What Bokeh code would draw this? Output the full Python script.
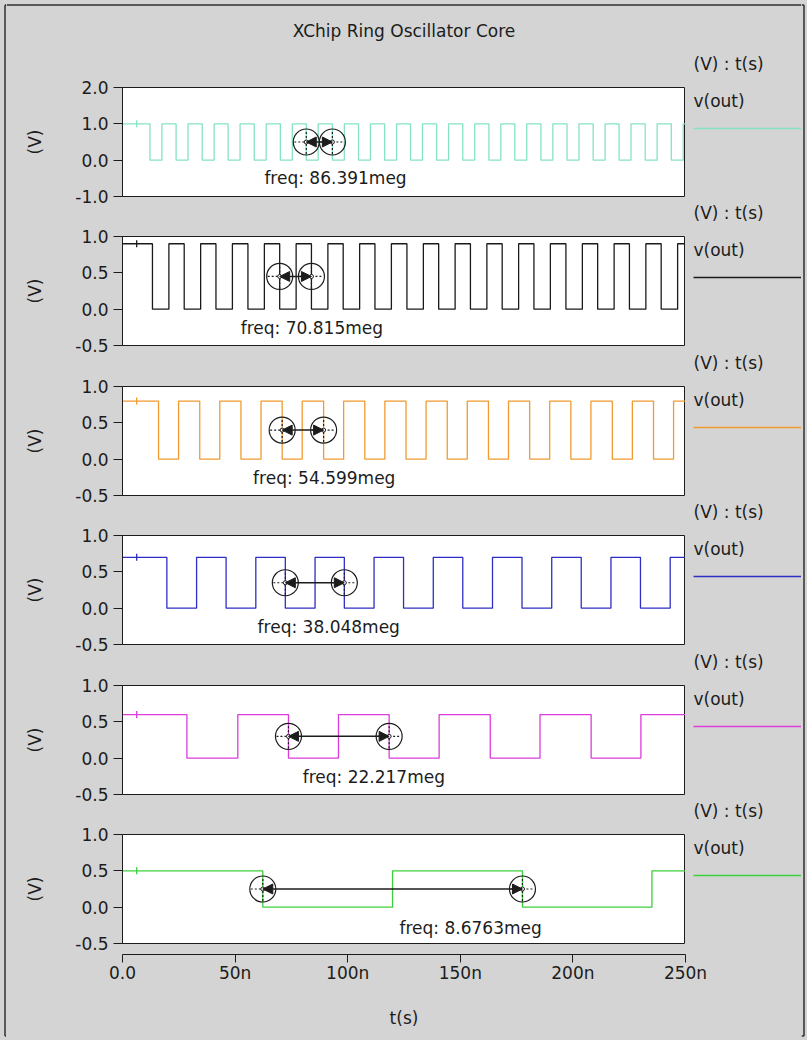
import math
from bokeh.plotting import figure
from bokeh.layouts import column, row
from bokeh.models import Range1d, FixedTicker, PrintfTickFormatter, Arrow, NormalHead
from bokeh.core.properties import value
from bokeh.embed import file_html
from bokeh.resources import INLINE

# ---------------- data ----------------
chart_title = "XChip Ring Oscillator Core"
x_tick_values = [0, 50, 100, 150, 200, 250]          # time in ns
x_tick_labels = ["0.0", "50n", "100n", "150n", "200n", "250n"]
x_axis_title = "t(s)"
y_axis_title = "(V)"
legend_header = "(V) : t(s)"
signal_name = "v(out)"

y_limits = [(-1.0, 2.0), (-0.5, 1.0), (-0.5, 1.0), (-0.5, 1.0), (-0.5, 1.0), (-0.5, 1.0)]
y_ticks_first = [-1.0, 0.0, 1.0, 2.0]
y_ticks_rest = [-0.5, 0.0, 0.5, 1.0]

high_level = [1.0, 0.9, 0.8, 0.7, 0.6, 0.5]
low_level = [0.0, 0.0, 0.0, 0.0, 0.0, 0.0]

# edge times (ns)
falls_1 = [12.2, 23.8, 35.4, 46.9, 58.5, 70.1, 81.6, 93.2, 104.8, 116.4, 127.9,
           139.5, 151.1, 162.7, 174.2, 185.8, 197.4, 209.0, 220.5, 232.1, 243.7]
rises_1 = [17.5, 29.1, 40.7, 52.2, 63.8, 75.4, 86.9, 98.5, 110.1, 121.7, 133.2,
           144.8, 156.4, 168.0, 179.5, 191.1, 202.7, 214.3, 225.8, 237.4, 249.0]
falls_2 = [13.3, 27.4, 41.5, 55.7, 69.8, 83.9, 98.0, 112.1, 126.3, 140.4, 154.5,
           168.6, 182.7, 196.9, 211.0, 225.1, 239.2]
rises_2 = [20.6, 34.7, 48.8, 63.0, 77.1, 91.2, 105.3, 119.4, 133.6, 147.7, 161.8,
           175.9, 190.0, 204.2, 218.3, 232.4, 246.5]
falls_3 = [16.0, 34.3, 52.6, 70.9, 89.3, 107.6, 125.9, 144.2, 162.5, 180.8, 199.1, 217.5, 235.8]
rises_3 = [24.9, 43.2, 61.5, 79.8, 98.2, 116.5, 134.8, 153.1, 171.4, 189.7, 208.0, 226.4, 244.7]
falls_4 = [19.7, 46.0, 72.3, 98.5, 124.8, 151.1, 177.4, 203.7, 230.0]
rises_4 = [32.9, 59.2, 85.5, 111.7, 138.0, 164.3, 190.6, 216.9, 243.2]
falls_5 = [28.6, 73.7, 118.4, 163.3, 208.1]
rises_5 = [51.2, 95.9, 140.6, 185.4, 230.2]
falls_6 = [62.3, 177.6]
rises_6 = [119.9, 235.1]
# small start-up glitch visible on every trace (ns)
glitch_t = [6.3, 6.3, 6.3, 6.3, 6.3, 6.3]

# measurement cursors (ns) and results
cursor_1 = [81.6, 93.2]
cursor_2 = [69.8, 83.9]
cursor_3 = [70.9, 89.3]
cursor_4 = [72.3, 98.5]
cursor_5 = [73.7, 118.4]
cursor_6 = [62.3, 177.6]
freq_text = ["freq: 86.391meg", "freq: 70.815meg", "freq: 54.599meg",
             "freq: 38.048meg", "freq: 22.217meg", "freq: 8.6763meg"]

# ---------------- styling / placement ----------------
GREY = "#d4d4d4"
INK = "#1c1c1c"
FRAME_INK = "#303030"
FONT = "DejaVu Sans"
FS = "17px"
trace_colors = ["#86e2c6", "#1a1a1a", "#f09a30", "#2e2ec4", "#dc3cdc", "#3ccf3c"]
label_anchor = [(63.0, -0.50), (52.5, -0.26), (58.0, -0.26), (60.0, -0.26), (80.0, -0.26), (123.0, -0.29)]

PAGE_W = 807
PAGE_H = 1040
EDGE = 6                      # strips carrying the outer frame line
MID_W = PAGE_W - 2 * EDGE
LEFT = 122 - EDGE
FRAME_W = 563
LEG_W = MID_W - LEFT - FRAME_W
FRAME_H = 109
TITLE_H = 47
panel_tops = [40, 28, 28, 28, 28, 28]
panel_bottoms = [12, 13, 12, 13, 12, 10]
legend_heights = [149, 150, 149, 150, 149]
body_h = sum(t + FRAME_H + b for t, b in zip(panel_tops, panel_bottoms))
legend_heights.append(body_h - sum(legend_heights))
AXIS_H = PAGE_H - EDGE - TITLE_H - body_h

falls = [falls_1, falls_2, falls_3, falls_4, falls_5, falls_6]
rises = [rises_1, rises_2, rises_3, rises_4, rises_5, rises_6]
cursors = [cursor_1, cursor_2, cursor_3, cursor_4, cursor_5, cursor_6]
BG = {"background-color": GREY}


def step_trace(fall_t, rise_t, hi, lo, t_end):
    edges = sorted([(t, lo) for t in fall_t] + [(t, hi) for t in rise_t])
    xs, ys, cur = [0.0], [hi], hi
    for t, lvl in edges:
        xs += [t, t]
        ys += [cur, lvl]
        cur = lvl
    xs.append(t_end)
    ys.append(cur)
    return xs, ys


def blank(w, h):
    f = figure(width=w, height=h, x_range=Range1d(0, w), y_range=Range1d(h, 0),
               toolbar_location=None, output_backend="svg", x_axis_location=None,
               y_axis_location=None, min_border=0, frame_align=False)
    f.background_fill_color = GREY
    f.border_fill_color = GREY
    f.outline_line_color = None
    f.grid.visible = False
    return f


# outer frame strips
left_strip = blank(EDGE, PAGE_H)
left_strip.line([4.5, 4.5], [4.5, PAGE_H - 4.5], line_color=FRAME_INK, line_width=1.5)
left_strip.line([4.5, EDGE], [4.5, 4.5], line_color=FRAME_INK, line_width=1.5)
left_strip.line([4.5, EDGE], [PAGE_H - 4.5, PAGE_H - 4.5], line_color=FRAME_INK, line_width=1.5)
right_strip = blank(EDGE, PAGE_H)
right_strip.line([2.5, 2.5], [4.5, PAGE_H - 4.5], line_color=FRAME_INK, line_width=1.5)
right_strip.line([0, 2.5], [4.5, 4.5], line_color=FRAME_INK, line_width=1.5)
right_strip.line([0, 2.5], [PAGE_H - 4.5, PAGE_H - 4.5], line_color=FRAME_INK, line_width=1.5)
bottom_strip = blank(MID_W, EDGE)
bottom_strip.line([0, MID_W], [1.5, 1.5], line_color=FRAME_INK, line_width=1.5)

# title strip
tf = blank(MID_W, TITLE_H)
tf.line([0, MID_W], [4.5, 4.5], line_color=FRAME_INK, line_width=1.5)
tf.text(x=[LEFT + FRAME_W / 2], y=[30], text=[chart_title], text_font=value(FONT),
        text_font_size=FS, text_align="center", text_baseline="middle", text_color=INK)

panels, legends = [], []
for i in range(6):
    h = panel_tops[i] + FRAME_H + panel_bottoms[i]
    ylo, yhi = y_limits[i]
    p = figure(width=LEFT + FRAME_W, height=h, x_range=Range1d(x_tick_values[0], x_tick_values[-1]),
               y_range=Range1d(ylo, yhi), toolbar_location=None, output_backend="svg",
               x_axis_location=None, min_border_left=LEFT, min_border_right=0,
               min_border_top=panel_tops[i], min_border_bottom=panel_bottoms[i])
    p.background_fill_color = "white"
    p.border_fill_color = GREY
    p.outline_line_color = INK
    p.outline_line_width = 1
    p.grid.visible = False
    ax = p.yaxis[0]
    ax.ticker = FixedTicker(ticks=y_ticks_first if i == 0 else y_ticks_rest)
    ax.formatter = PrintfTickFormatter(format="%.1f")
    ax.axis_label = y_axis_title
    ax.axis_label_standoff = 27
    ax.axis_label_text_font = FONT
    ax.axis_label_text_font_size = FS
    ax.axis_label_text_font_style = "normal"
    ax.axis_label_text_color = INK
    ax.major_label_text_font = FONT
    ax.major_label_text_font_size = FS
    ax.major_label_text_color = INK
    ax.major_label_standoff = 5
    ax.major_tick_in = 0
    ax.major_tick_out = 9
    ax.minor_tick_line_color = None
    ax.axis_line_color = INK
    ax.major_tick_line_color = INK

    xs, ys = step_trace(falls[i], rises[i], high_level[i], low_level[i], x_tick_values[-1])
    p.line(xs, ys, line_color=trace_colors[i], line_width=1.3)
    p.scatter([glitch_t[i]], [high_level[i]], marker="dash", angle=math.pi / 2, size=7,
              line_color=trace_colors[i], line_width=1.3)

    cy = (high_level[i] + low_level[i]) / 2
    cx = cursors[i]
    p.add_layout(Arrow(x_start=cx[0], y_start=cy, x_end=cx[1], y_end=cy,
                       line_color=INK, line_width=1.5,
                       start=NormalHead(size=10, fill_color=INK, line_color=INK),
                       end=NormalHead(size=10, fill_color=INK, line_color=INK)))
    p.scatter(cx, [cy, cy], marker="circle", size=26, fill_color=None, line_color=INK, line_width=1.2)
    p.scatter(cx, [cy, cy], marker="cross", size=24, line_color=INK, line_width=1.2, line_dash="2 2")
    p.scatter(cx, [cy, cy], marker="circle", size=4, fill_color="white", line_color=INK, line_width=1)
    lx, ly = label_anchor[i]
    p.text(x=[lx], y=[ly], text=[freq_text[i]], text_font=value(FONT), text_font_size=FS,
           text_align="left", text_baseline="middle", text_color=INK)
    panels.append(p)

    lh = legend_heights[i]
    lg = blank(LEG_W, lh)
    lg.text(x=[8, 8], y=[16, 53], text=[legend_header, signal_name],
            text_font=value(FONT), text_font_size=FS, text_align="left",
            text_baseline="middle", text_color=INK)
    lg.line([8, LEG_W], [81, 81], line_color=trace_colors[i], line_width=1.5)
    legends.append(lg)

# shared time axis, a small gap below the last panel
af = figure(width=MID_W, height=AXIS_H, x_range=Range1d(x_tick_values[0], x_tick_values[-1]),
            y_range=Range1d(0, 1), toolbar_location=None, output_backend="svg",
            y_axis_location=None, min_border_left=LEFT, min_border_right=LEG_W,
            min_border_top=0, min_border_bottom=AXIS_H - 1)
af.background_fill_color = GREY
af.border_fill_color = GREY
af.outline_line_color = None
af.grid.visible = False
xa = af.xaxis[0]
xa.ticker = FixedTicker(ticks=x_tick_values)
xa.major_label_overrides = {v: s for v, s in zip(x_tick_values, x_tick_labels)}
xa.axis_label = x_axis_title
xa.axis_label_standoff = 22
xa.axis_label_text_font = FONT
xa.axis_label_text_font_size = FS
xa.axis_label_text_font_style = "normal"
xa.axis_label_text_color = INK
xa.major_label_text_font = FONT
xa.major_label_text_font_size = FS
xa.major_label_text_color = INK
xa.major_label_standoff = 0
xa.major_tick_in = 0
xa.major_tick_out = 8
xa.minor_tick_line_color = None
xa.axis_line_color = INK
xa.major_tick_line_color = INK

body = row(column(*panels, spacing=0, styles=BG), column(*legends, spacing=0, styles=BG),
           spacing=0, styles=BG)
middle = column(tf, body, af, bottom_strip, spacing=0, styles=BG)
layout = row(left_strip, middle, right_strip, spacing=0, styles=BG)

open("out.html", "w").write(file_html(layout, INLINE))
